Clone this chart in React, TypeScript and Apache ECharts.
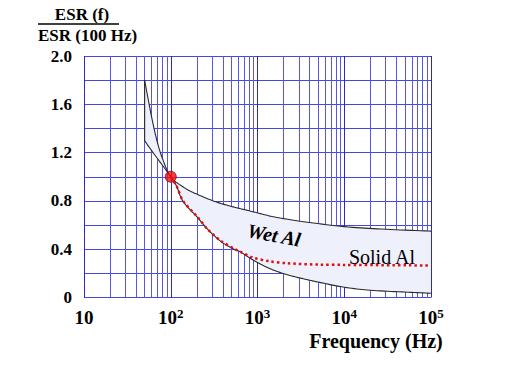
import React, { useEffect, useRef } from "react";
import * as echarts from "echarts";

// Wet Al upper boundary
const freqUpper = [50, 55, 60, 67.6, 78.5, 100, 146, 207, 323, 500, 782, 1216, 1585, 3240, 10000, 30000, 100000];
const wetUpper = [1.8, 1.64, 1.5, 1.33, 1.17, 1.0, 0.906, 0.851, 0.795, 0.754, 0.72, 0.685, 0.666, 0.63, 0.587, 0.565, 0.55];

// Wet Al lower boundary (first point: top of the vertical edge at 50 Hz)
const freqLower = [50, 50, 57, 100, 117, 139, 207, 270, 385, 550, 627, 890, 1380, 2160, 3380, 5200, 10000, 20000, 50000, 100000];
const wetLower = [1.8, 1.3, 1.24, 1.0, 0.92, 0.795, 0.657, 0.56, 0.46, 0.395, 0.38, 0.31, 0.24, 0.19, 0.155, 0.125, 0.085, 0.06, 0.045, 0.035];

// Solid Al
const freqSolid = [100, 117, 139, 207, 270, 385, 550, 627, 890, 1380, 2160, 5200, 10000, 100000];
const solidAl = [1.0, 0.92, 0.8, 0.66, 0.56, 0.465, 0.4, 0.38, 0.33, 0.3, 0.284, 0.272, 0.27, 0.265];

// Reference point
const refPoint = [[100, 1.0]];

// Minor log grid positions (2..9 in each decade)
const decades = [10, 100, 1000, 10000];
const minorMultipliers = [2, 3, 4, 5, 6, 7, 8, 9];

const SERIF = "'Liberation Serif', 'Times New Roman', serif";

const zip = (xs: number[], ys: number[]) => xs.map((x, i) => [x, ys[i]]);

// Catmull-Rom smoothing of pixel points
function smoothPts(p: number[][], steps = 10): number[][] {
  if (p.length < 3) return p.slice();
  const out: number[][] = [p[0]];
  for (let i = 0; i < p.length - 1; i++) {
    const p0 = p[i - 1] || p[i];
    const p1 = p[i];
    const p2 = p[i + 1];
    const p3 = p[i + 2] || p[i + 1];
    for (let s = 1; s <= steps; s++) {
      const t = s / steps;
      const t2 = t * t;
      const t3 = t2 * t;
      const f = (a: number, b: number, c: number, d: number) =>
        0.5 * (2 * b + (-a + c) * t + (2 * a - 5 * b + 4 * c - d) * t2 + (-a + 3 * b - 3 * c + d) * t3);
      out.push([f(p0[0], p1[0], p2[0], p3[0]), f(p0[1], p1[1], p2[1], p3[1])]);
    }
  }
  return out;
}

export default function App() {
  const ref = useRef<HTMLDivElement>(null);
  useEffect(() => {
    const chart = echarts.init(ref.current!, null, { renderer: "svg" });
    const minorLines: any[] = [];
    decades.forEach((d) => minorMultipliers.forEach((m) => minorLines.push({ xAxis: d * m })));
    const upperData = zip(freqUpper, wetUpper);
    const lowerData = zip(freqLower, wetLower);
    const option: any = {
      animation: false,
      grid: { left: 84, right: 81, top: 56, bottom: 76.5 },
      xAxis: {
        type: "log",
        logBase: 10,
        min: 10,
        max: 100000,
        axisLine: { show: false },
        axisTick: { show: false },
        splitLine: { show: true, lineStyle: { color: "#2a2ac8", width: 1 } },
        axisLabel: {
          margin: 9,
          formatter: (v: number) => {
            const e = Math.round(Math.log10(v));
            return e === 1 ? "{a|10}" : "{a|10}{b|" + e + "}";
          },
          rich: {
            a: { fontSize: 19, fontWeight: "bold", fontFamily: SERIF, color: "#000", lineHeight: 22 },
            b: { fontSize: 13, fontWeight: "bold", fontFamily: SERIF, color: "#000", lineHeight: 13, verticalAlign: "top" },
          },
        },
      },
      yAxis: {
        type: "value",
        min: 0,
        max: 2,
        interval: 0.2,
        axisLine: { show: false },
        axisTick: { show: false },
        splitLine: { show: true, lineStyle: { color: "#4646e0", width: 1 } },
        axisLabel: {
          margin: 12,
          fontSize: 17,
          fontWeight: "bold",
          fontFamily: SERIF,
          color: "#000",
          formatter: (v: number) => {
            const t = Math.round(v * 10);
            if (t % 4 !== 0) return "";
            return t === 0 ? "0" : v.toFixed(1);
          },
        },
      },
      series: [
        {
          type: "line",
          name: "grid",
          data: [[10, 0], [100000, 0]],
          symbol: "none",
          lineStyle: { opacity: 0 },
          silent: true,
          z: 1,
          markLine: {
            z: 1,
            silent: true,
            symbol: ["none", "none"],
            label: { show: false },
            lineStyle: { color: "#5555e8", width: 1, type: "solid" },
            emphasis: { disabled: true },
            data: minorLines,
          },
        },
        {
          type: "custom",
          name: "Wet Al",
          coordinateSystem: "cartesian2d",
          z: 3,
          silent: true,
          data: [[100, 1]],
          renderItem: (params: any, api: any) => {
            const up = smoothPts(upperData.map((p) => api.coord(p)));
            const lowPx = lowerData.map((p) => api.coord(p));
            const low = [lowPx[0]].concat(smoothPts(lowPx.slice(1)));
            const fillPts = up.concat(low.slice().reverse());
            return {
              type: "group",
              children: [
                { type: "polygon", shape: { points: fillPts }, style: { fill: "#eef0fb", stroke: "none" } },
                { type: "polyline", shape: { points: up }, style: { stroke: "#2a2a2a", lineWidth: 1.1, fill: "none" } },
                { type: "polyline", shape: { points: low }, style: { stroke: "#2a2a2a", lineWidth: 1.1, fill: "none" } },
              ],
            };
          },
        },
        {
          type: "line",
          name: "Solid Al",
          data: zip(freqSolid, solidAl),
          symbol: "none",
          smooth: 0.3,
          z: 4,
          lineStyle: { color: "#e01010", width: 2.5, type: [2.5, 3] },
        },
        {
          type: "scatter",
          name: "ref",
          data: refPoint,
          symbol: "circle",
          symbolSize: 11,
          z: 5,
          itemStyle: { color: "#f01010", borderColor: "#900", borderWidth: 1 },
        },
      ],
      graphic: [
        {
          type: "text",
          x: 82,
          y: 14,
          style: { text: "ESR (f)", font: `bold 17px ${SERIF}`, fill: "#000", textAlign: "center", textVerticalAlign: "middle" },
        },
        {
          type: "line",
          shape: { x1: 38, y1: 24, x2: 119, y2: 24 },
          style: { stroke: "#000", lineWidth: 1.5 },
        },
        {
          type: "text",
          x: 38,
          y: 35,
          style: { text: "ESR (100 Hz)", font: `bold 17px ${SERIF}`, fill: "#000", textAlign: "left", textVerticalAlign: "middle" },
        },
        {
          type: "text",
          x: 376,
          y: 341,
          style: { text: "Frequency (Hz)", font: `bold 20px ${SERIF}`, fill: "#000", textAlign: "center", textVerticalAlign: "middle" },
        },
        {
          type: "text",
          x: 274,
          y: 235,
          rotation: -0.18,
          z: 10,
          style: { text: "Wet Al", font: `italic bold 20px ${SERIF}`, fill: "#000", textAlign: "center", textVerticalAlign: "middle" },
        },
        {
          type: "text",
          x: 382,
          y: 257,
          z: 10,
          style: { text: "Solid Al", font: `20px ${SERIF}`, fill: "#000", textAlign: "center", textVerticalAlign: "middle" },
        },
      ],
    };
    chart.setOption(option);
    return () => chart.dispose();
  }, []);
  return <div ref={ref} style={{ position: "fixed", left: 0, top: 0, width: 512, height: 374, background: "#fff" }} />;
}
